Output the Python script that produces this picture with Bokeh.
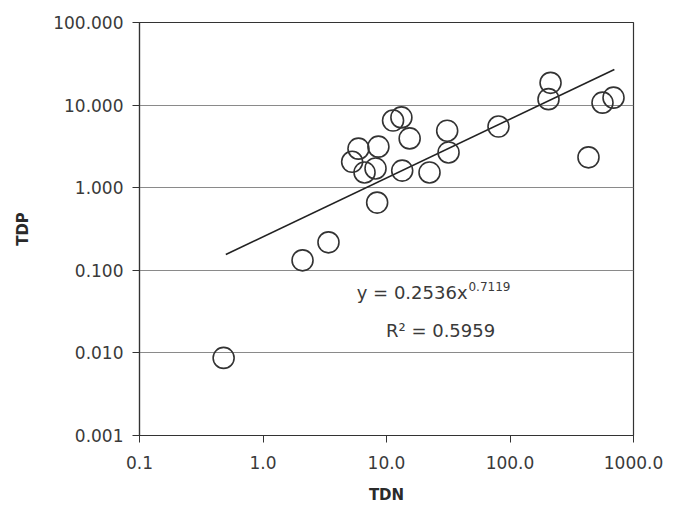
from bokeh.plotting import figure
from bokeh.models import FixedTicker, Label, ColumnDataSource, Range1d
from bokeh.embed import file_html
from bokeh.resources import INLINE

# data
tdn = [11.3, 13.2, 15.4, 31.0, 31.8, 5.93, 8.6, 5.27, 6.64, 8.15, 13.4, 22.3, 8.4,
       213, 205, 561, 689, 80.7, 432, 3.39, 2.09, 0.48]
tdp = [6.5, 7.1, 3.95, 4.9, 2.67, 2.97, 3.14, 2.06, 1.53, 1.71, 1.61, 1.53, 0.66,
       18.6, 11.8, 10.7, 12.3, 5.5, 2.33, 0.218, 0.132, 0.0087]
trend_x = [0.5, 700]
trend_y = [0.155, 27.0]
x_ticks = [0.1, 1, 10, 100, 1000]
x_labels = ["0.1", "1.0", "10.0", "100.0", "1000.0"]
y_ticks = [0.001, 0.01, 0.1, 1, 10, 100]
y_labels = ["0.001", "0.010", "0.100", "1.000", "10.000", "100.000"]

FONT = "DejaVu Sans"
TXT = "#3a3a3a"

p = figure(width=681, height=509, x_axis_type="log", y_axis_type="log",
           x_range=Range1d(0.1, 1000), y_range=Range1d(0.001, 100),
           output_backend="svg", toolbar_location=None,
           min_border_left=139, min_border_right=48, min_border_top=22, min_border_bottom=74)
p.background_fill_color = "white"
p.border_fill_color = "white"
p.outline_line_color = "#333333"
p.outline_line_width = 1.2

p.xgrid.visible = False
p.ygrid.grid_line_color = "#8a8a8a"
p.ygrid.grid_line_width = 1.2
p.ygrid.ticker = FixedTicker(ticks=y_ticks)

for ax, ticks, labels in ((p.xaxis[0], x_ticks, x_labels), (p.yaxis[0], y_ticks, y_labels)):
    ax.ticker = FixedTicker(ticks=ticks)
    ax.major_label_overrides = {t: l for t, l in zip(ticks, labels)}
    ax.minor_tick_line_color = None
    ax.major_tick_in = 0
    ax.major_tick_out = 7
    ax.axis_line_color = "#333333"
    ax.axis_line_width = 1.2
    ax.major_tick_line_color = "#333333"
    ax.major_label_text_font = FONT
    ax.major_label_text_font_size = "17px"
    ax.major_label_text_color = TXT
    ax.axis_label_text_font = FONT
    ax.axis_label_text_font_size = "15px"
    ax.axis_label_text_font_style = "bold"
    ax.axis_label_text_color = "#2a2a2a"

p.xaxis.axis_label = "TDN"
p.yaxis.axis_label = "TDP"
p.xaxis.major_label_standoff = 13
p.xaxis.axis_label_standoff = 14
p.yaxis.major_label_standoff = 9
p.yaxis.axis_label_standoff = 18

src = ColumnDataSource(dict(x=tdn, y=tdp))
p.line(trend_x, trend_y, line_color="#222222", line_width=1.6)
p.scatter("x", "y", source=src, size=21, fill_alpha=0, line_color="#333333", line_width=1.6)

p.add_layout(Label(x=45.3, y=0.0542, text="y = 0.2536x", text_font=FONT, text_font_size="18px",
                   text_color=TXT, text_baseline="middle", text_align="right"))
p.add_layout(Label(x=46.1, y=0.0630, text="0.7119", text_font=FONT, text_font_size="12px",
                   text_color=TXT, text_baseline="middle", text_align="left"))
p.add_layout(Label(x=27.4, y=0.0188, text="R² = 0.5959", text_font=FONT, text_font_size="18px",
                   text_color=TXT, text_baseline="middle", text_align="center"))

open("out.html", "w").write(file_html(p, INLINE))
